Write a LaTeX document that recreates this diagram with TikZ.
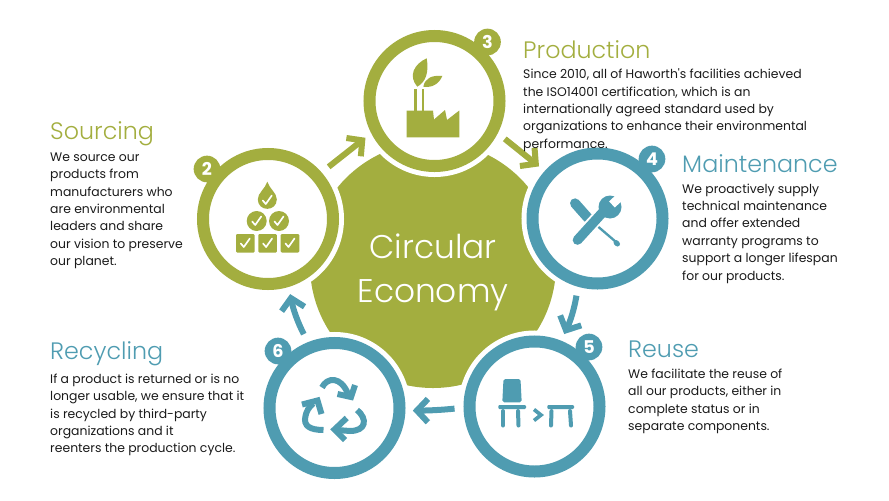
\documentclass[tikz,border=0pt]{standalone}
\usepackage{fontspec}
\setmainfont{Poppins}
\newfontfamily\bodyfont{Poppins}
\newfontfamily\headfont{Poppins Light}
\usetikzlibrary{positioning,arrows.meta,calc}
\definecolor{olivec}{HTML}{A3AE3F}
\definecolor{tealc}{HTML}{4F9CB1}
\definecolor{inkc}{HTML}{1A1A1A}
\tikzset{
  ring/.style={circle,draw=#1,fill=white,line width=0.36cm,minimum size=3.9cm,inner sep=0pt,
    preaction={draw=white,line width=0.66cm}},
  badge/.style={circle,fill=#1,text=white,minimum size=0.8cm,inner sep=0pt,font=\fontsize{15}{15}\selectfont\bfseries},
  flow/.style={draw=#1,line width=0.18cm,shorten <=0.27cm,shorten >=0.22cm,
    -{Straight Barb[length=0.33cm,width=0.7cm]}},
  heading/.style={text=#1,anchor=west,inner sep=0pt,font=\fontsize{20.3}{22}\selectfont\headfont},
  bodytext/.style={text=inkc,anchor=north west,align=left,inner sep=0pt,font=\fontsize{10.6}{14.85}\selectfont\bodyfont},
  recyc/.style={draw=tealc,line width=0.18cm},
  tick/.style={draw=white,line width=0.05cm,line cap=round,line join=round}
}
\begin{document}
\begin{tikzpicture}[x=0.03cm,y=-0.03cm]
\useasboundingbox (0,0) rectangle (889,500);
% centre disc
\node[circle,fill=olivec,minimum size=7.38cm,inner sep=0pt] (hub) at (433,265) {};
% rings
\node[ring=olivec] (sourcing) at (268,219) {};
\node[ring=olivec] (production) at (434.5,101) {};
\node[ring=tealc] (maintenance) at (597.5,218.5) {};
\node[ring=tealc] (reuse) at (534.5,406.5) {};
\node[ring=tealc] (recycling) at (334.5,408) {};
% drop, balls and boxes
\fill[olivec] (267.3,181.7) .. controls (265,189) and (257.8,193) .. (257.8,199.3)
  .. controls (257.8,212) and (276.8,212) .. (276.8,199.3) .. controls (276.8,193) and (269.6,189) .. cycle;
\foreach \x/\y in {256.7/221,279/221}{\fill[olivec] (\x,\y) circle[radius=10];}
\foreach \x in {236,258.3,280.7}{\fill[olivec,rounded corners=1pt] (\x,234) rectangle ++(18.6,18.6);}
\foreach \x/\y in {267.3/200,256.7/221,279/221,245.3/243,267.6/243,290/243}{
  \draw[tick] (\x-4.5,\y+0.5)--(\x-1.5,\y+4)--(\x+4.5,\y-4.5);}
% factory
\fill[olivec] (406.7,137.3)--(459.3,137.3)--(459.3,110.5)--(447,120)--(445,110)--(434,119.5)--(433,110.7)--(406.7,110.7)--cycle;
\foreach \x in {414,421.7}{\fill[olivec] (\x,89) rectangle ++(2.6,22);}
\fill[olivec] (417.3,86.7) .. controls (408,76) and (414,64) .. (426.7,58.3) .. controls (429,72) and (426,82) .. cycle;
\fill[olivec] (423.3,86.7) .. controls (425,78) and (432,75) .. (442.3,76) .. controls (439,84) and (432,88) .. cycle;
% spanner and screwdriver
\draw[tealc,line width=0.3cm,line cap=round] (575,203.3)--(588,218);
\draw[tealc,line width=0.07cm] (588,218)--(616,242);
\draw[tealc,line width=0.15cm,line cap=round] (616,242.5)--(617.5,244);
\draw[white,line width=0.4cm] (578,239)--(603,212);
\draw[tealc,line width=0.29cm,line cap=round] (577.5,240)--(603,212);
\fill[tealc] (610,207) circle[radius=11.5];
\draw[white,line width=0.25cm] (612,204.5)--(626,191);
% chair and stool
\fill[tealc,rounded corners=1.5pt] (502.3,402.3)--(503.5,379)--(520.5,379)--(521.7,402.3)--cycle;
\fill[tealc,rounded corners=1pt] (498.3,405) rectangle (526,409);
\fill[tealc,rounded corners=1pt] (547.3,405) rectangle (574,409);
\foreach \a/\b in {503/503,518/518.5,551.5/551,570/571}{\draw[tealc,line width=0.12cm,line cap=round] (\a,411)--(\b,425.5);}
\draw[tealc,line width=0.11cm] (534,409.5)--(541,415)--(534,420.5);
% recycling arrows
\draw[recyc] (322,387.5) .. controls (327,377) and (341,376) .. (348,394);
\draw[recyc] (337.5,394)--(351,397)--(355,385);
\draw[recyc] (323.5,430) .. controls (310,430) and (303,426) .. (305.5,416) .. controls (306.5,411) and (309,407) .. (313,403.5);
\draw[recyc] (302,404.5)--(317.5,400.5)--(321.5,414);
\draw[recyc] (357,410) .. controls (368,419) and (366,431) .. (350,431) -- (337,430);
\draw[recyc] (346.7,418)--(334.5,429.5)--(345,440);
% flow arrows
\draw[flow=olivec] (sourcing.41)--(production.207);
\draw[flow=olivec] (production.-27)--(maintenance.138);
\draw[flow=tealc] (maintenance.254) to[bend left=8] (reuse.68);
\draw[flow=tealc] (reuse.181) to[bend left=3] (recycling.-2);
\draw[flow=tealc] (recycling.112) to[bend left=8] (sourcing.-73);
% number badges
\node[badge=olivec] (badgetwo) at (207,169) {2};
\node[badge=olivec] (badgethree) at (487.5,42) {3};
\node[badge=tealc] (badgefour) at (652,159) {4};
\node[badge=tealc] (badgefive) at (589,347) {5};
\node[badge=tealc] (badgesix) at (278,351) {6};
% texts
\node[text=white,align=center,font=\fontsize{28}{37.5}\selectfont\headfont] (hubtext) at (433,272) {Circular\\Economy};
\node[heading=olivec] (headsourcing) at (50,134) {Sourcing};
\node[bodytext] (textsourcing) at (50,152.5) {We source our\\products from\\manufacturers who\\are environmental\\leaders and share\\our vision to preserve\\our planet.};
\node[heading=olivec] (headproduction) at (523,50) {Production};
\node[bodytext] (textproduction) at (523,68.5) {Since 2010, all of Haworth's facilities achieved\\the ISO14001 certification, which is an\\internationally agreed standard used by\\organizations to enhance their environmental\\performance.};
\node[heading=tealc] (headmaintenance) at (682,164) {Maintenance};
\node[bodytext] (textmaintenance) at (682,183.5) {We proactively supply\\technical maintenance\\and offer extended\\warranty programs to\\support a longer lifespan\\for our products.};
\node[heading=tealc] (headreuse) at (628,349) {Reuse};
\node[bodytext] (textreuse) at (628,368.5) {We facilitate the reuse of\\all our products, either in\\complete status or in\\separate components.};
\node[heading=tealc] (headrecycling) at (50,354) {Recycling};
\node[bodytext] (textrecycling) at (50,373.5) {If a product is returned or is no\\longer usable, we ensure that it\\is recycled by third-party\\organizations and it\\reenters the production cycle.};
\end{tikzpicture}
\end{document}
